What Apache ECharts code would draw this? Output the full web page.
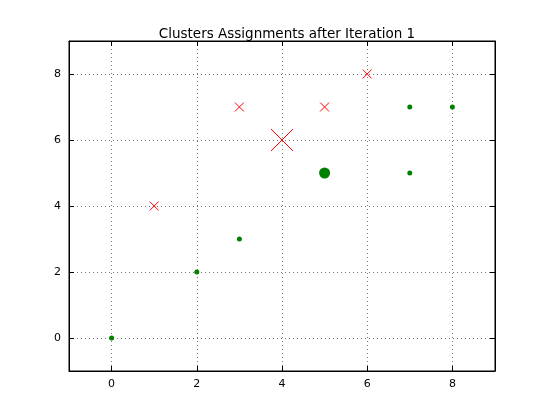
<!DOCTYPE html>
<html><head><meta charset="utf-8">
<script src="https://cdn.jsdelivr.net/npm/echarts@6/dist/echarts.min.js"></script>
<style>html,body{margin:0;padding:0;background:#fff}#c{width:550px;height:413px}</style>
</head><body><div id="c"></div>
<script>
const redPoints=[[1,4],[3,7],[5,7],[6,8]];
const redCentroid=[[4,6]];
const greenPoints=[[0,0],[2,2],[3,3],[7,7],[8,7],[7,5]];
const greenCentroid=[[5,5]];
const xTicks=[0,2,4,6,8];
const chart=echarts.init(document.getElementById('c'));
const font='DejaVu Sans';
function ax(pos,show,grid){return {type:'value',min:-1,max:9,interval:1,position:pos,
 axisLine:{show:true,onZero:false,lineStyle:{color:'#000'}},
 axisTick:{show:true,inside:true,length:5,interval:0,lineStyle:{color:'#000'}},
 axisLabel:{show:show,color:'#000',fontFamily:font,fontSize:11,formatter:v=>v%2===0&&v>=0&&v<=8?String(v):''},
 splitLine:{show:grid,lineStyle:{color:'#555',type:[1,3],width:0.8}}};}
function fixTicks(a){a.axisTick.customValues=xTicks;a.axisLabel.customValues=xTicks;a.splitLine.customValues=xTicks;return a;}
const xr='path://M0,0L10,10M10,0L0,10';
const redStyle={color:'#f00',borderColor:'#f00',borderWidth:1,opacity:1};
chart.setOption({
 animation:false,
 title:{text:'Clusters Assignments after Iteration 1',left:282,top:22,textAlign:'center',textStyle:{fontFamily:font,fontSize:13.5,fontWeight:'normal',color:'#000'}},
 grid:{left:69,right:55,top:41,bottom:42,show:true,borderColor:'#000',borderWidth:1},
 xAxis:[fixTicks(ax('bottom',true,true)),fixTicks(ax('top',false,false))],
 yAxis:[fixTicks(ax('left',true,true)),fixTicks(ax('right',false,false))],
 series:[
  {type:'scatter',z:3,data:redPoints,symbol:xr,symbolSize:9,itemStyle:redStyle,emphasis:{disabled:true}},
  {type:'scatter',z:3,data:redCentroid,symbol:xr,symbolSize:22,itemStyle:redStyle,emphasis:{disabled:true}},
  {type:'scatter',z:3,data:greenPoints,symbol:'circle',symbolSize:5,itemStyle:{color:'#008000',opacity:1},emphasis:{disabled:true}},
  {type:'scatter',z:3,data:greenCentroid,symbol:'circle',symbolSize:11,itemStyle:{color:'#008000',opacity:1},emphasis:{disabled:true}}
 ]
});
</script></body></html>
